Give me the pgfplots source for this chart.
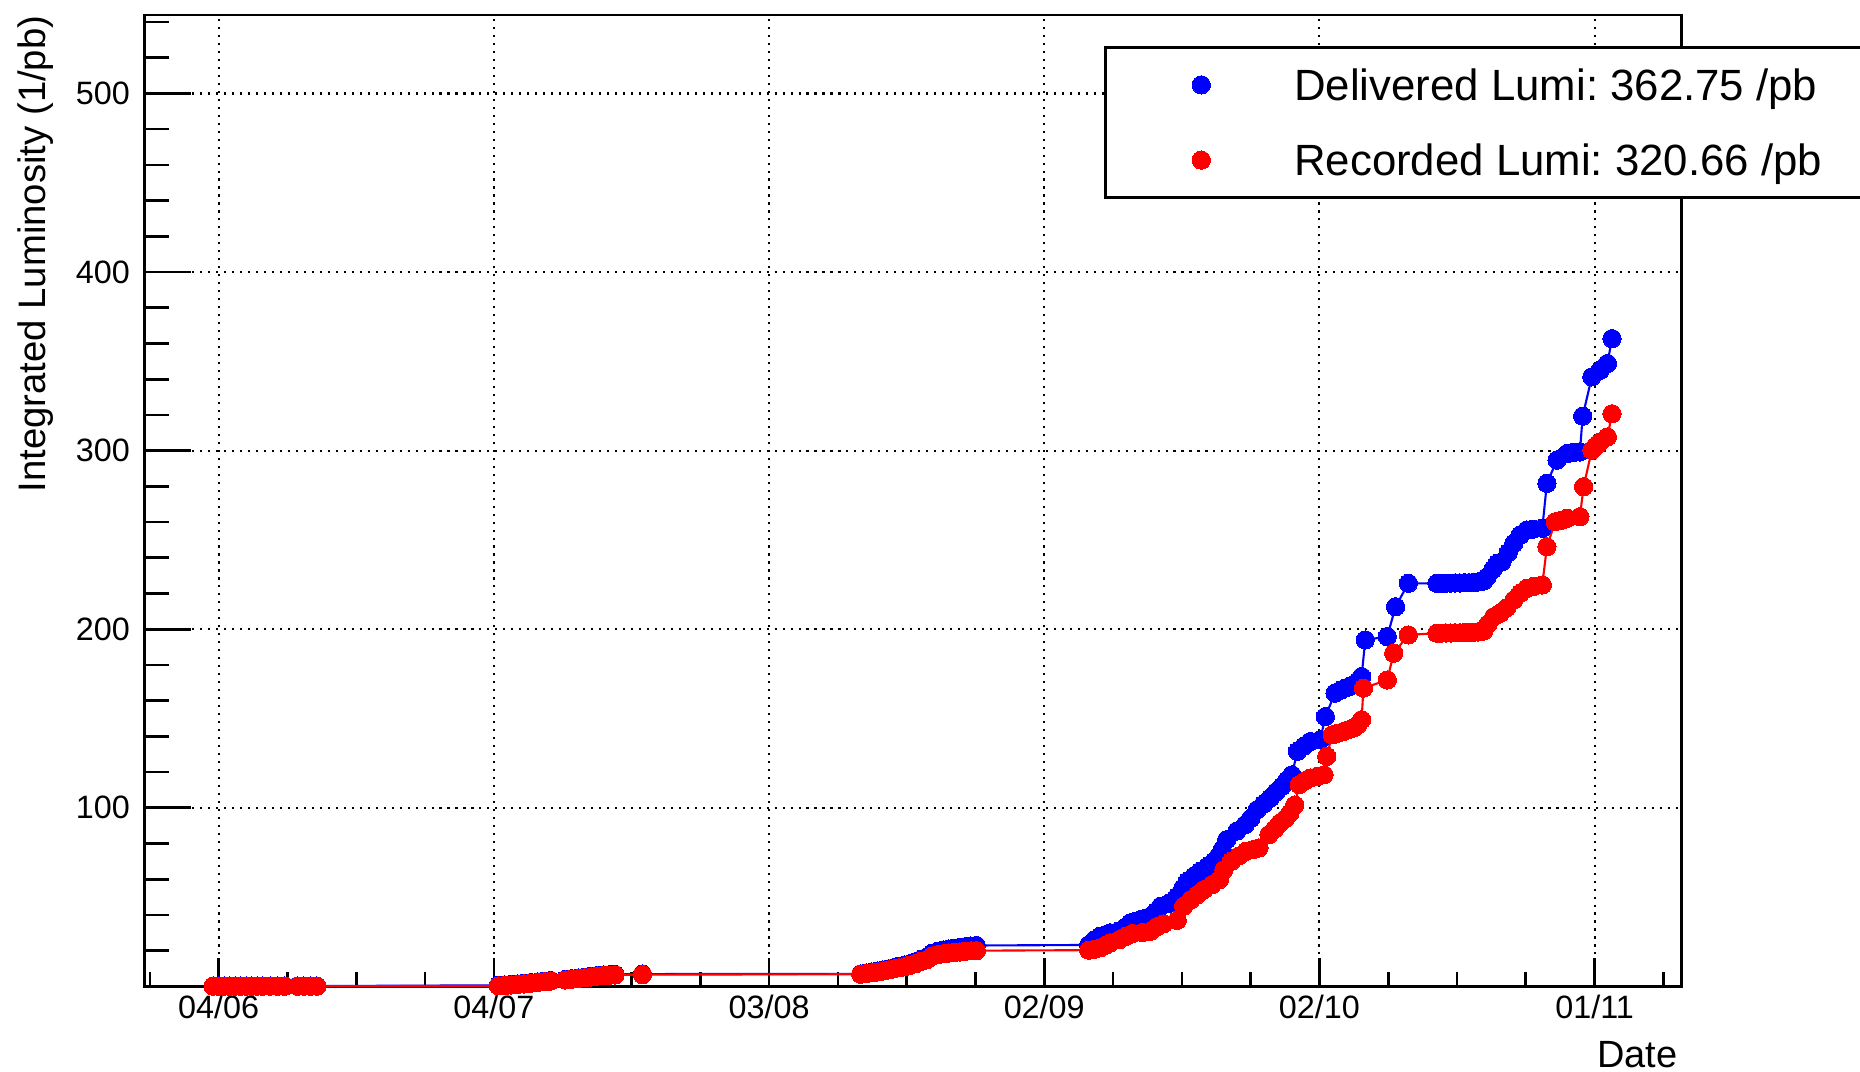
\documentclass[border=0pt]{standalone}
\usepackage{fontspec}
\setmainfont{Liberation Sans}
\usepackage{pgfplots}
\pgfplotsset{compat=1.18}
\frenchspacing

\begin{document}
\begin{tikzpicture}
\begin{axis}[
  scale only axis, width=153.74mm, height=97.15mm,
  at={(0,0)}, anchor=south west,
  xmin=-8.11, xmax=159.5, ymin=0, ymax=544,
  clip=false,
  axis line style={line width=0.75pt},
  tick align=inside, tick pos=left,
  xtick={0,30,60,90,120,150},
  xticklabels={04/06,04/07,03/08,02/09,02/10,01/11},
  minor xtick={-7.5,7.5,15,22.5,37.5,45,52.5,67.5,75,82.5,97.5,105,112.5,127.5,135,142.5,157.5},
  ytick={100,200,300,400,500},
  minor ytick={20,40,...,540},
  every tick/.style={black, line width=0.75pt},
  xtick style={/pgfplots/major tick length=2.86mm, /pgfplots/minor tick length=1.4mm},
  ytick style={/pgfplots/major tick length=4.7mm, /pgfplots/minor tick length=2.5mm},
  grid=major,
  major grid style={black, line width=0.6pt, dash pattern=on 0.6pt off 1.67pt},
  /pgf/number format/assume math mode=true,
  tick label style={font=\fontsize{9.2}{11}\selectfont},
  xticklabel style={anchor=base, inner sep=0pt, yshift=-3.26mm},
  yticklabel style={anchor=east, inner sep=0pt, xshift=-1.38mm},
  xlabel={Date}, ylabel={Integrated Luminosity (1/pb)},
  every axis x label/.style={at={(axis description cs:0.9976,-0.0836)}, anchor=base east, inner sep=0pt, font=\fontsize{10.8}{12}\selectfont},
  every axis y label/.style={at={(axis description cs:-0.0643,1)}, rotate=90, anchor=base east, inner sep=0pt, font=\fontsize{10.9}{12}\selectfont},
  legend cell align=left,
  legend style={at={(axis description cs:0.6242,0.968)}, anchor=north west, draw=black, line width=0.75pt, fill=white,
    inner xsep=0pt, inner ysep=0pt, row sep=0pt, font=\fontsize{12.45}{14}\selectfont,
    nodes={inner sep=0pt, text depth=0pt, anchor=west}, cells={anchor=west}},
  legend image code/.code={\path[draw=none,fill=none] (0mm,-3.76mm) rectangle (18.9mm,3.76mm); \draw[#1, line width=0pt] plot coordinates {(9.6mm,0mm)};},
]
\addplot[blue, line width=0.6pt, mark=*, mark size=2.6pt, mark options={solid, fill=blue, draw=blue, line width=0pt}] coordinates {
(-0.6,0.2) (0.0,0.2) (0.6,0.2) (1.2,0.2) (1.8,0.2) (2.4,0.2) (3.0,0.2) (3.6,0.2) (4.2,0.2) (4.8,0.2) (5.6,0.2) (6.4,0.2) (7.2,0.2) (8.6,0.2) (9.3,0.2) (10.0,0.2) (10.7,0.2)
(30.5,0.6) (31.2,0.8) (31.9,1.1) (32.6,1.4) (33.3,1.7) (34.0,2.1) (34.8,2.5) (35.5,2.9) (36.2,3.3) (37.8,3.9) (38.5,4.3) (39.2,4.7) (39.9,5.1) (40.6,5.6) (41.3,6.1) (42.0,6.4) (42.7,6.6) (43.2,6.7) (46.2,6.9)
(70.0,7.0) (70.6,7.5) (71.2,8.0) (71.8,8.6) (72.4,9.2) (73.0,9.8) (73.6,10.5) (74.2,11.2) (74.8,12.0) (75.4,12.8) (76.0,13.9) (76.6,15.2) (77.2,16.4) (77.8,18.6) (78.4,19.7) (79.0,20.4) (79.6,20.9) (80.2,21.4) (80.8,21.8) (81.4,22.2) (82.0,22.6) (82.6,22.9)
(94.85,23.2) (95.5,26.2) (96.1,28.1) (96.7,29.0) (97.2,30.0) (98.1,30.9) (98.8,33.0) (99.4,35.6) (100.0,36.5) (100.5,37.4) (101.1,38.3) (101.6,39.3) (102.2,42.0) (102.7,44.9) (103.6,46.5) (104.5,50.4) (105.1,55.0) (105.6,58.8) (106.3,61.6) (107.0,64.4) (107.8,67.2) (108.5,70.0) (109.0,73.0) (109.4,76.6) (109.9,82.2) (111.0,87.0) (111.9,90.5) (112.5,94.0) (113.2,98.9) (113.9,102.0) (114.65,105.5) (115.3,109.0) (115.9,112.0) (116.5,115.5) (117.0,118.5) (117.6,131.6) (118.3,134.5) (119.0,137.1) (120.1,138.1) (120.65,151.1) (121.7,164.2) (122.3,165.8) (122.8,167.0) (123.3,168.0) (123.7,168.9) (124.2,171.0) (124.6,173.5) (125.0,194.0) (127.4,195.9) (128.3,212.6) (129.7,225.7) (132.8,225.7) (133.3,225.7) (133.8,225.8) (134.3,225.8) (134.8,225.9) (135.3,225.9) (135.8,226.0) (136.3,226.0) (136.8,226.2) (137.3,226.5) (137.9,227.0) (138.3,229.4) (138.9,233.5) (139.4,236.9) (139.9,237.8) (140.6,243.0) (141.2,248.1) (141.9,252.7) (142.6,255.5) (143.3,256.0) (144.3,256.5) (144.8,281.7) (145.9,294.7) (147.0,298.4) (147.7,299.0) (148.4,299.3) (148.7,319.3) (149.7,341.3) (150.6,345.0) (151.4,348.8) (151.9,362.75)
};
\addlegendentry{Delivered Lumi: 362.75 /pb\rule{16mm}{0pt}}
\addplot[red, line width=0.6pt, mark=*, mark size=2.6pt, mark options={solid, fill=red, draw=red, line width=0pt}] coordinates {
(-0.6,0.1) (0.0,0.1) (0.6,0.1) (1.2,0.1) (1.8,0.1) (2.4,0.1) (3.0,0.1) (3.6,0.1) (4.2,0.1) (4.8,0.1) (5.6,0.1) (6.4,0.1) (7.2,0.1) (8.6,0.1) (9.3,0.1) (10.0,0.1) (10.7,0.1)
(30.5,0.3) (31.2,0.5) (31.9,0.8) (32.6,1.1) (33.3,1.4) (34.0,1.8) (34.8,2.2) (35.5,2.6) (36.2,3.0) (37.8,3.6) (38.5,4.0) (39.2,4.4) (39.9,4.8) (40.6,5.3) (41.3,5.8) (42.0,6.1) (42.7,6.3) (43.2,6.4) (46.2,6.6)
(70.0,6.8) (70.6,7.2) (71.2,7.6) (71.8,8.1) (72.4,8.6) (73.0,9.2) (73.6,9.8) (74.2,10.4) (74.8,11.0) (75.4,11.8) (76.0,12.8) (76.6,14.0) (77.2,15.0) (77.8,17.0) (78.4,17.8) (79.0,18.3) (79.6,18.7) (80.2,19.0) (80.8,19.3) (81.4,19.6) (82.0,19.9) (82.6,20.0)
(94.85,20.3) (95.5,20.8) (96.1,21.6) (96.7,23.0) (97.2,24.4) (98.2,26.2) (98.9,28.0) (99.6,29.6) (100.7,30.2) (101.6,30.9) (102.3,33.5) (103.0,35.0) (104.5,37.0) (105.2,44.9) (106.0,48.6) (106.7,51.4) (107.4,54.2) (108.3,57.0) (109.1,59.8) (109.6,65.4) (110.4,70.0) (111.2,73.0) (112.0,75.6) (112.7,76.5) (113.4,77.5) (114.5,85.0) (115.1,88.0) (115.7,91.5) (116.3,94.0) (116.8,97.1) (117.3,101.5) (117.8,113.0) (118.4,115.0) (119.0,116.7) (119.8,117.6) (120.5,118.5) (120.8,128.8) (121.4,140.9) (122.0,141.8) (122.6,142.7) (123.1,143.6) (123.7,144.6) (124.2,146.5) (124.6,149.3) (124.8,167.0) (127.4,171.6) (128.1,186.6) (129.7,196.8) (132.8,197.8) (133.3,197.8) (133.8,197.9) (134.3,197.9) (134.8,198.0) (135.3,198.0) (135.8,198.1) (136.3,198.2) (136.8,198.3) (137.3,198.5) (137.9,199.0) (138.4,203.0) (139.0,207.0) (139.7,208.9) (140.4,212.0) (141.2,216.4) (141.9,220.1) (142.6,222.9) (143.4,224.0) (144.3,224.8) (144.8,246.2) (145.7,260.2) (146.4,261.0) (147.0,262.1) (148.4,263.0) (148.8,279.8) (149.7,300.3) (150.1,302.5) (150.6,304.9) (151.4,307.7) (151.9,320.66)
};
\addlegendentry{Recorded Lumi: 320.66 /pb\rule{16mm}{0pt}}
\end{axis}
\pgfresetboundingbox
\path[use as bounding box] (-14.43mm,-8.56mm) rectangle (171.57mm,98.64mm);
\end{tikzpicture}
\end{document}
